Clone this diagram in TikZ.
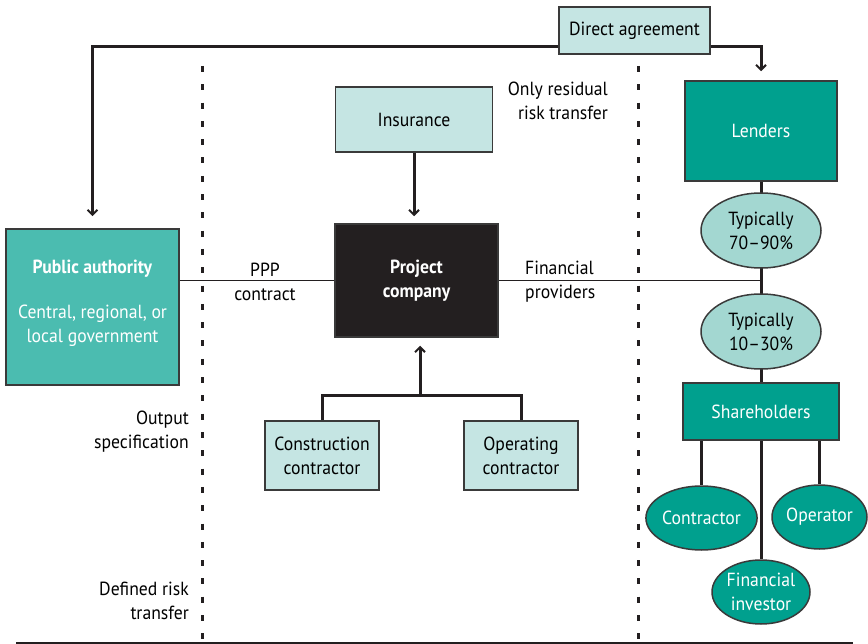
\documentclass[tikz,border=0pt]{standalone}
\usepackage{fontspec}
\setmainfont[FakeStretch=0.93]{PT Sans}
\usetikzlibrary{shapes.geometric,backgrounds,calc,arrows.meta}
\definecolor{lightbox}{HTML}{C5E5E3}
\definecolor{tealdark}{HTML}{00A08E}
\definecolor{tealmid}{HTML}{4BBCB0}
\definecolor{ellight}{HTML}{A3D7D1}
\definecolor{pcdark}{HTML}{231F20}
\definecolor{bordc}{HTML}{3A3A3A}
\definecolor{linec}{HTML}{231F20}
\begin{document}
\begin{tikzpicture}[x=1pt,y=-1pt,
  font=\fontsize{19}{24}\selectfont,
  box/.style={draw=bordc, line width=1.5pt, inner sep=0pt, align=center},
  lbox/.style={box, fill=lightbox, text=black},
  tbox/.style={box, fill=tealdark, text=white},
  ell/.style={ellipse, draw=bordc, line width=1.5pt, inner sep=0pt, align=center},
  conn/.style={line width=3pt, draw=linec},
  thinconn/.style={line width=1.6pt, draw=linec},
  arr/.style={-{Straight Barb[length=5pt,width=10pt,line width=2pt]}},
  dotl/.style={line width=3pt, draw=linec, dash pattern=on 6pt off 12.3pt},
  lab/.style={inner sep=0pt, text=black}
]
\useasboundingbox (0,0) rectangle (868,644);

% nodes
\node[lbox, minimum width=151pt, minimum height=47pt] (da) at (634.5,30.5) {Direct agreement};
\node[lbox, minimum width=157pt, minimum height=65pt] (ins) at (414,119.5) {Insurance};
\node[box, fill=pcdark, text=white, font=\fontsize{19}{24}\selectfont\bfseries, minimum width=163pt, minimum height=113pt] (pc) at (416.5,280.5) {Project\\company};
\node[box, fill=tealmid, minimum width=173pt, minimum height=156pt] (pa) at (92.5,307) {};
\node[lab, text=white, align=center] (pat) at (92.5,303) {\textbf{Public authority}\\[21pt]Central, regional, or\\local government};
\node[tbox, minimum width=152pt, minimum height=100pt] (len) at (761,131) {Lenders};
\node[ell, fill=ellight, minimum width=120pt, minimum height=75pt] (e1) at (761,230.5) {Typically\\70–90\%};
\node[ell, fill=ellight, minimum width=120pt, minimum height=75pt] (e2) at (761,331.5) {Typically\\10–30\%};
\node[tbox, minimum width=156pt, minimum height=57pt] (sh) at (761,411.5) {Shareholders};
\node[ell, fill=tealdark, text=white, minimum width=97pt, minimum height=64pt] (con) at (701.5,518) {Contractor};
\node[ell, fill=tealdark, text=white, minimum width=95pt, minimum height=64pt] (op) at (819.5,517) {Operator};
\node[ell, fill=tealdark, text=white, minimum width=98pt, minimum height=64pt] (fi) at (761,592) {Financial\\investor};
\node[lbox, minimum width=114pt, minimum height=69pt] (cc) at (322,455.5) {Construction\\contractor};
\node[lbox, minimum width=114pt, minimum height=69pt] (oc) at (521,455.5) {Operating\\contractor};

% labels
\node[lab, align=center] (ppp) at (265,282) {PPP\\contract};
\node[lab, align=left, anchor=west] (fp) at (525,282) {Financial\\providers};
\node[lab, align=right, anchor=east] (res) at (608,101) {Only residual\\risk transfer};
\node[lab, align=right, anchor=east] (os) at (189,432) {Output\\specification};
\node[lab, align=right, anchor=east] (dr) at (189,601) {Defined risk\\transfer};

\coordinate (j) at (420,396);

% separators
\draw[dotl] (202,66) -- (202,642);
\draw[dotl] (638,66) -- (638,642);
\draw[line width=2pt, draw=linec] (16,642.5) -- (853,642.5);

% connectors
\begin{scope}[on background layer]
  \draw[conn] (len.south) -- (sh.north);
  \draw[conn] (sh.south -| con) -- (con);
  \draw[conn] (sh.south) -- (fi);
  \draw[conn] (sh.south -| op) -- (op);
\end{scope}
\draw[conn, arr] ([yshift=-16.5pt]da.west) -| ([yshift=12pt]pa.north);
\draw[conn, arr] ([yshift=-16.5pt]da.east) -| ([yshift=9pt]len.north);
\draw[conn, arr] (ins.south) -- ($(ins.south |- pc.north)+(0,-7)$);
\draw[conn] (cc.north) |- (j) -| (oc.north);
\draw[conn, arr] (j) -- ($(j |- pc.south)+(0,8)$);
\draw[thinconn] (pa.east |- pc.west) -- (pc.west);
\draw[thinconn] (pc.east) -- (pc.east -| len.south);
\end{tikzpicture}
\end{document}
